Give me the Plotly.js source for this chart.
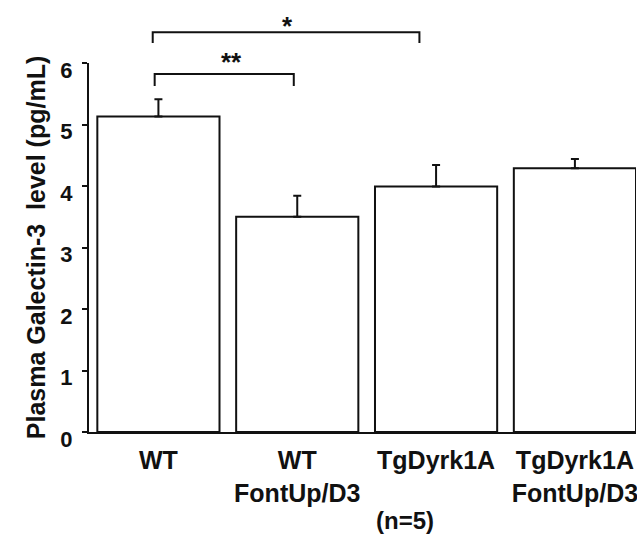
<!DOCTYPE html>
<html>
<head>
<meta charset="utf-8">
<script src="https://cdn.plot.ly/plotly-3.0.1.min.js"></script>
<style>
html, body { margin: 0; padding: 0; background: #fff; }
#chart { width: 637px; height: 535px; }
</style>
</head>
<body>
<div id="chart"></div>
<script>
// ---- data ----
var categories = ["WT", "WT<br>FontUp/D3", "TgDyrk1A", "TgDyrk1A<br>FontUp/D3"];
var means = [5.13, 3.50, 3.99, 4.29];
var errUp = [0.28, 0.34, 0.35, 0.15];
var errDown = [0, 0, 0, 0];
var yTicks = [0, 1, 2, 3, 4, 5, 6];
var yTitle = "Plasma Galectin-3\u00a0 level (pg/mL)";
var nNote = "(n=5)";
var sigLabels = ["**", "*"];

var FONT = "Liberation Sans, Arial, Helvetica, sans-serif";
var INK = "#111";

var trace = {
  type: "bar",
  x: [0, 1, 2, 3],
  y: means,
  marker: { color: "#ffffff", line: { color: INK, width: 2 } },
  error_y: {
    type: "data", symmetric: false, array: errUp, arrayminus: errDown,
    color: INK, thickness: 2, width: 4
  },
  hoverinfo: "none"
};

var layout = {
  width: 637, height: 535,
  margin: { l: 89, r: 1, t: 63, b: 103, pad: 0 },
  paper_bgcolor: "#fff", plot_bgcolor: "#fff",
  showlegend: false,
  bargap: 0.12,
  font: { family: FONT, color: INK },
  xaxis: {
    range: [-0.5, 3.44],
    tickmode: "array", tickvals: [0, 1, 2, 3], ticktext: categories,
    ticks: "", showgrid: false, zeroline: false,
    showline: true, linecolor: INK, linewidth: 2,
    tickfont: { family: FONT, size: 25, color: INK, weight: "bold" },
    ticklabelstandoff: 5,
    ticklabeloverflow: "allow",
    fixedrange: true
  },
  yaxis: {
    range: [0, 6],
    tickmode: "array", tickvals: yTicks, ticktext: yTicks.map(String),
    ticks: "outside", ticklen: 5, tickwidth: 2, tickcolor: INK,
    showgrid: false, zeroline: false,
    showline: true, linecolor: INK, linewidth: 2,
    tickfont: { family: FONT, size: 22, color: INK, weight: "bold" },
    ticklabelstandoff: 5,
    ticklabelshift: 7,
    ticklabeloverflow: "allow",
    title: { text: yTitle, font: { family: FONT, size: 25, color: INK, weight: "bold" }, standoff: 8 },
    fixedrange: true
  },
  shapes: [
    // ** bracket (WT vs WT FontUp/D3)
    { type: "path", xref: "x", yref: "paper",
      path: "M -0.027 0.938 L -0.027 0.970 L 0.975 0.970 L 0.975 0.938",
      line: { color: INK, width: 2 } },
    // * bracket (WT vs TgDyrk1A)
    { type: "path", xref: "x", yref: "paper",
      path: "M -0.041 1.054 L -0.041 1.083 L 1.880 1.083 L 1.880 1.054",
      line: { color: INK, width: 2 } }
  ],
  annotations: [
    { text: sigLabels[0], xref: "x", yref: "paper", x: 0.528, y: 1.003,
      xanchor: "center", yanchor: "middle", showarrow: false,
      font: { family: FONT, size: 26, color: INK, weight: "bold" } },
    { text: sigLabels[1], xref: "x", yref: "paper", x: 0.932, y: 1.100,
      xanchor: "center", yanchor: "middle", showarrow: false,
      font: { family: FONT, size: 26, color: INK, weight: "bold" } },
    { text: nNote, xref: "x", yref: "paper", x: 1.558, y: -0.279,
      xanchor: "left", yanchor: "bottom", showarrow: false, borderpad: 0,
      font: { family: FONT, size: 24, color: INK, weight: "bold" } }
  ]
};

Plotly.newPlot("chart", [trace], layout, { displayModeBar: false, staticPlot: true });
</script>
</body>
</html>
